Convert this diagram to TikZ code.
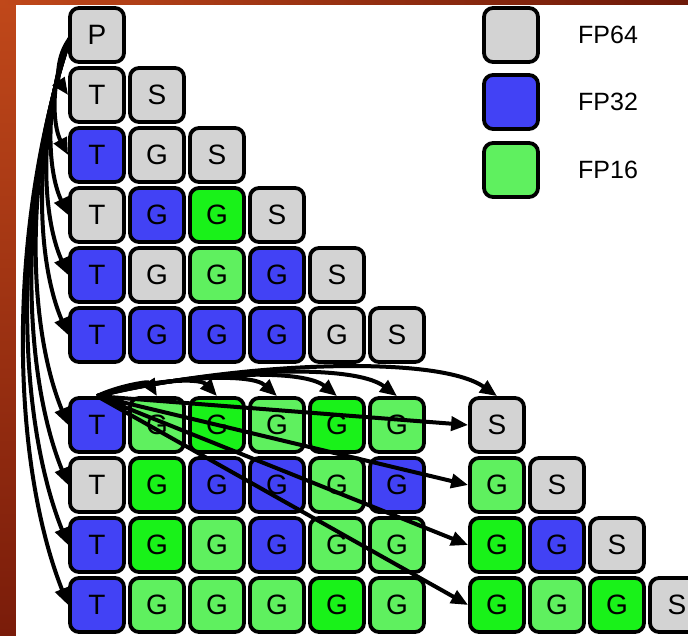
\documentclass[tikz,border=0pt]{standalone}
\usepackage{fontspec}
\setmainfont{Liberation Sans}
\usetikzlibrary{arrows.meta,calc}

\definecolor{fpgrey}{RGB}{211,211,211}
\definecolor{fpblue}{RGB}{66,66,245}
\definecolor{fpgreen}{RGB}{25,242,25}
\definecolor{fplight}{RGB}{95,240,95}
\definecolor{slideorange}{RGB}{192,72,26}
\definecolor{slidered}{RGB}{122,28,10}

\begin{document}
\begin{tikzpicture}[x=1pt,y=-1pt,
  cell/.style={draw=black, line width=3.8pt, rounded corners=9pt,
    minimum size=54pt, inner sep=0pt, text=black,
    font=\fontsize{28}{28}\selectfont},
  dep/.style={line width=4pt, draw=black,
    -{Triangle[length=17pt,width=14pt]}},
  legtext/.style={anchor=west, inner sep=0pt,
    font=\fontsize{25}{25}\selectfont}]

\useasboundingbox (0,0) rectangle (688,636);

% slide backdrop
\fill[slidered] (0,0) rectangle (688,636);
\shade[top color=slideorange, bottom color=slidered] (0,0) rectangle (16,636);
\shade[left color=slideorange, right color=slidered!90!black] (0,0) rectangle (688,5);
\fill[white] (16,5) rectangle (688,636);

% upper triangle of tasks
\node[cell, fill=fpgrey] (P) at (97,35) {P};
\foreach \c/\t [count=\j from 0] in {fpgrey/T,fpgrey/S}
  \node[cell, fill=\c] (u1c\j) at (97+60*\j,95) {\t};
\foreach \c/\t [count=\j from 0] in {fpblue/T,fpgrey/G,fpgrey/S}
  \node[cell, fill=\c] (u2c\j) at (97+60*\j,155) {\t};
\foreach \c/\t [count=\j from 0] in {fpgrey/T,fpblue/G,fpgreen/G,fpgrey/S}
  \node[cell, fill=\c] (u3c\j) at (97+60*\j,215) {\t};
\foreach \c/\t [count=\j from 0] in {fpblue/T,fpgrey/G,fplight/G,fpblue/G,fpgrey/S}
  \node[cell, fill=\c] (u4c\j) at (97+60*\j,275) {\t};
\foreach \c/\t [count=\j from 0] in {fpblue/T,fpblue/G,fpblue/G,fpblue/G,fpgrey/G,fpgrey/S}
  \node[cell, fill=\c] (u5c\j) at (97+60*\j,335) {\t};

% lower block, left part
\foreach \c/\t [count=\j from 0] in {fpblue/T,fplight/G,fpgreen/G,fplight/G,fpgreen/G,fplight/G}
  \node[cell, fill=\c] (aL\j) at (97+60*\j,425) {\t};
\foreach \c/\t [count=\j from 0] in {fpgrey/T,fpgreen/G,fpblue/G,fpblue/G,fplight/G,fpblue/G}
  \node[cell, fill=\c] (bL\j) at (97+60*\j,485) {\t};
\foreach \c/\t [count=\j from 0] in {fpblue/T,fpgreen/G,fplight/G,fpblue/G,fplight/G,fplight/G}
  \node[cell, fill=\c] (cL\j) at (97+60*\j,545) {\t};
\foreach \c/\t [count=\j from 0] in {fpblue/T,fplight/G,fplight/G,fplight/G,fpgreen/G,fplight/G}
  \node[cell, fill=\c] (dL\j) at (97+60*\j,605) {\t};

% lower block, right part
\node[cell, fill=fpgrey] (aR0) at (497,425) {S};
\foreach \c/\t [count=\j from 0] in {fplight/G,fpgrey/S}
  \node[cell, fill=\c] (bR\j) at (497+60*\j,485) {\t};
\foreach \c/\t [count=\j from 0] in {fpgreen/G,fpblue/G,fpgrey/S}
  \node[cell, fill=\c] (cR\j) at (497+60*\j,545) {\t};
\foreach \c/\t [count=\j from 0] in {fpgreen/G,fplight/G,fpgreen/G,fpgrey/S}
  \node[cell, fill=\c] (dR\j) at (497+60*\j,605) {\t};

% legend
\node[cell, fill=fpgrey]  (k64) at (511,35)  {};
\node[cell, fill=fpblue]  (k32) at (511,102) {};
\node[cell, fill=fplight] (k16) at (511,170) {};
\node[legtext] (t64) at (578,35)  {FP64};
\node[legtext] (t32) at (578,102) {FP32};
\node[legtext] (t16) at (578,170) {FP16};

% P feeds every T below it
\foreach \n/\d in {u1c0/60,u2c0/120,u3c0/180,u4c0/240,u5c0/300,
                   aL0/390,bL0/450,cL0/510,dL0/570}
  \draw[dep] ($(P.west)+(2,3)$)
    .. controls ($(P.west)+(-0.1*\d-6,0.35*\d)$)
            and ($(\n.west)+(-0.09*\d-5,-0.25*\d)$) .. (\n.west);

% the lower T feeds the tasks of its own row (arcs over the top)
\foreach \n/\d in {aL1/60,aL2/120,aL3/180,aL4/240,aL5/300,aR0/400}
  \draw[dep] (aL0.north)
    .. controls ($(aL0.north)+(0.35*\d,-0.07*\d-6)$)
            and ($(\n.north)+(-0.15*\d,-0.08*\d-10)$) .. (\n.north);

% ... and the first task of each row on the right
\foreach \n in {aR0,bR0,cR0,dR0}
  \draw[dep] (aL0.north) -- (\n.west);

\end{tikzpicture}
\end{document}
